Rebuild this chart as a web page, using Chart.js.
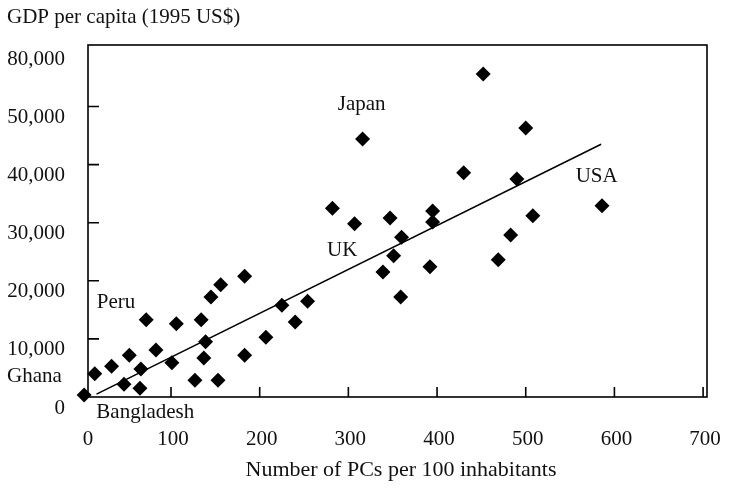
<!DOCTYPE html>
<html>
<head>
<meta charset="utf-8">
<script src="https://cdn.jsdelivr.net/npm/chart.js@4"></script>
<style>
	body { margin: 0; background: #fff; }
	canvas { display: block; }
</style>
</head>
<body>
<canvas id="chart" width="734" height="498"></canvas>
<script>
//values (PCs per 100, GDP per capita)
const pcs = [2, 14, 33, 53, 47, 65, 66, 72, 83, 101, 106, 127, 134, 139, 137, 145, 153, 156, 183, 183, 207,
	225, 240, 254, 282, 307, 316, 347, 339, 351, 360, 359, 392, 395, 395, 430, 452, 469, 483, 490, 500, 508, 586];
const gdp = [350, 4000, 5300, 7200, 2200, 1500, 4800, 13300, 8100, 5900, 12600, 2900, 13300, 9500, 6700, 17200, 2900, 19300, 7200, 20800, 10300,
	15800, 12900, 16500, 32500, 29800, 44400, 30800, 21500, 24300, 27500, 17200, 22400, 32000, 30100, 38600, 55600, 23600, 27900, 37500, 46300, 31200, 32900];

//fitted line ends
const trend_x = [16, 585];
const trend_y = [500, 43500];

//axis ticks
const x_ticks = [0, 100, 200, 300, 400, 500, 600, 700];
const y_ticks = [0, 10000, 20000, 30000, 40000, 50000, 60000];
const y_tick_labels = ["0", "10,000", "20,000", "30,000", "40,000", "50,000", "80,000"];

//country names written on the plot
const country_names = ["Japan", "UK", "USA", "Peru", "Ghana", "Bangladesh"];

const serif = "'Liberation Serif', 'Times New Roman', serif";
const font = "21px " + serif;

//where each name sits, in data units
const name_spots = {
	Japan: [315, 50300],
	UK: [293, 25300],
	USA: [580, 37900],
	Peru: [38, 16200],
	Ghana: [-54, 3450],
	Bangladesh: [71, -2750]
};

function toPoints(xs, ys) {
	return xs.map((x, i) => ({ x: x, y: ys[i] }));
}

//frame, inner ticks and all the text
const framePlugin = {
	id: "frame",
	afterDraw(chart) {
		const ctx = chart.ctx;
		const area = chart.chartArea;
		const xs = chart.scales.x;
		const ys = chart.scales.y;

		ctx.save();
		ctx.strokeStyle = "#000";
		ctx.lineWidth = 1.6;
		ctx.strokeRect(area.left, area.top, area.right - area.left, area.bottom - area.top);

		ctx.beginPath();
		x_ticks.forEach((v) => {
			const px = xs.getPixelForValue(v);
			if (px <= area.left + 3 || px >= area.right - 3) return;
			ctx.moveTo(px, area.bottom);
			ctx.lineTo(px, area.bottom - 10);
		});
		y_ticks.forEach((v) => {
			const py = ys.getPixelForValue(v);
			if (py >= area.bottom - 3 || py <= area.top + 5) return;
			ctx.moveTo(area.left, py);
			ctx.lineTo(area.left + 11, py);
		});
		ctx.stroke();

		ctx.fillStyle = "#111";
		ctx.font = font;
		ctx.textBaseline = "middle";

		//x tick labels
		ctx.textAlign = "center";
		x_ticks.forEach((v) => {
			const px = Math.max(xs.getPixelForValue(v), area.left - 2) + 2;
			ctx.fillText(String(v), px, area.bottom + 42);
		});

		//y tick labels
		ctx.textAlign = "right";
		y_ticks.forEach((v, i) => {
			ctx.fillText(y_tick_labels[i], area.left - 23, ys.getPixelForValue(v) + 11);
		});

		//axis titles
		ctx.textAlign = "left";
		ctx.fillText("GDP per capita (1995 US$)", 7, 17);
		ctx.font = "22px " + serif;
		ctx.textAlign = "center";
		ctx.fillText("Number of PCs per 100 inhabitants", 401, area.bottom + 73);
		ctx.font = font;

		//country names
		country_names.forEach((name) => {
			const spot = name_spots[name];
			ctx.fillText(name, xs.getPixelForValue(spot[0]), ys.getPixelForValue(spot[1]));
		});
		ctx.restore();
	}
};

const config = {
	type: "scatter",
	data: {
		datasets: [{
			label: "countries",
			data: toPoints(pcs, gdp),
			pointStyle: "rectRot",
			pointRadius: 7.5,
			backgroundColor: "#000",
			borderColor: "#000",
			borderWidth: 0,
			clip: false
		}, {
			label: "trend",
			data: toPoints(trend_x, trend_y),
			showLine: true,
			pointRadius: 0,
			borderColor: "#000",
			borderWidth: 1.5,
			fill: false
		}]
	},
	options: {
		responsive: false,
		animation: false,
		events: [],
		layout: {
			padding: { left: 88, right: 27, top: 45, bottom: 101 }
		},
		plugins: {
			legend: { display: false },
			tooltip: { enabled: false }
		},
		scales: {
			x: { type: "linear", display: false, min: 6.4, max: 704.4 },
			y: { type: "linear", display: false, min: 0, max: 60580 }
		}
	},
	plugins: [framePlugin]
};

new Chart(document.getElementById("chart"), config);
</script>
</body>
</html>
